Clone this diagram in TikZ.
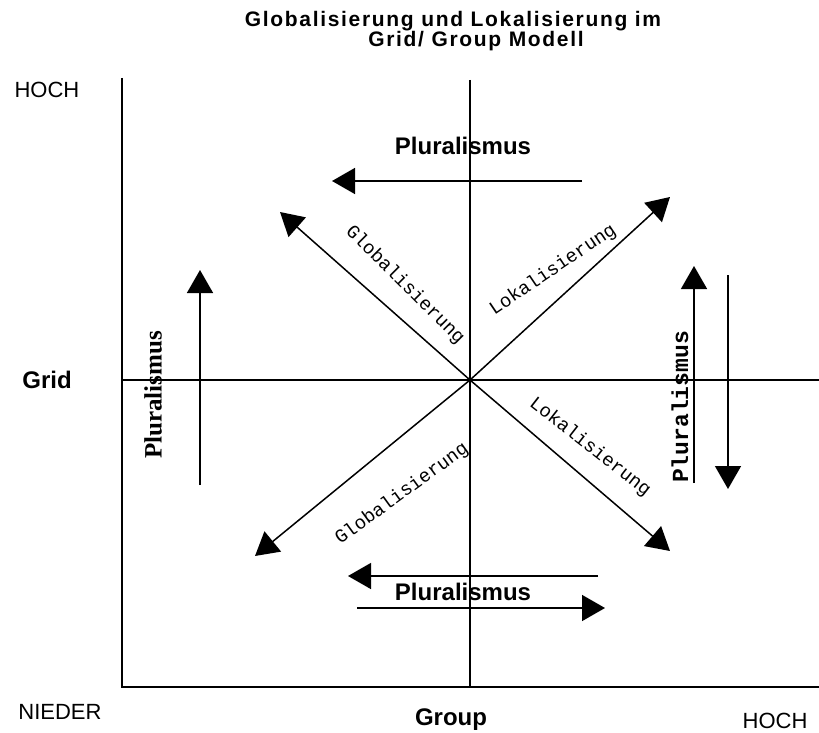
\documentclass[tikz,border=0pt]{standalone}
\usepackage{fontspec}
\setmainfont{Liberation Sans}
\newfontfamily\titlefont[LetterSpace=8]{Liberation Sans}
\newfontfamily\plurmono{Liberation Mono}
\newfontfamily\plurserif{Liberation Serif}
\usetikzlibrary{arrows.meta}

\tikzset{
  axisline/.style={line width=1.5pt},
  bigarrow/.style={line width=1.5pt,-{Triangle[length=23pt,width=26pt]}},
  caption/.style={inner sep=0pt,font=\fontsize{22}{24}\selectfont},
  boldcaption/.style={inner sep=0pt,font=\fontsize{24}{26}\selectfont\bfseries},
  titleline/.style={inner sep=0pt,font=\titlefont\fontsize{21}{23}\selectfont\bfseries},
  diaglabel/.style={inner sep=0pt,font=\plurmono\fontsize{19}{21}\selectfont},
}

\begin{document}
\begin{tikzpicture}[x=1pt,y=-1pt]
\useasboundingbox (0,0) rectangle (819,733);

% Title
\node[titleline] (title1) at (453,21) {Globalisierung und Lokalisierung im};
\node[titleline] (title2) at (476,41) {Grid/ Group Modell};

% Axes
\coordinate (top) at (122,78);
\coordinate (origin) at (122,687);
\coordinate (right) at (819,687);
\draw[axisline] (top) -- (origin) -- (right);

% Cross through the middle
\coordinate (O) at (470,380);
\coordinate (midtop) at (470,80);
\coordinate (midbot) at (470,687);
\coordinate (midleft) at (122,380);
\coordinate (midright) at (819,380);
\draw[axisline] (midtop) -- (midbot);
\draw[axisline] (midleft) -- (midright);

% Axis captions
\node[caption] (hochL) at (47,90) {HOCH};
\node[boldcaption] (grid) at (47,380) {Grid};
\node[caption] (nieder) at (60,712) {NIEDER};
\node[boldcaption] (group) at (451,720) {Group};
\node[caption] (hochR) at (775,721) {HOCH};

% Diagonal arrows
\coordinate (nw) at (280,212);
\coordinate (ne) at (670,197);
\coordinate (sw) at (255,556);
\coordinate (se) at (670,551);
\draw[bigarrow] (O) -- (nw);
\draw[bigarrow] (O) -- (ne);
\draw[bigarrow] (O) -- (sw);
\draw[bigarrow] (O) -- (se);

\node[diaglabel,rotate=-45] (globNW) at (405,285) {Globalisierung};
\node[diaglabel,rotate=34] (lokNE) at (553,270) {Lokalisierung};
\node[diaglabel,rotate=36] (globSW) at (402,494) {Globalisierung};
\node[diaglabel,rotate=-38] (lokSE) at (590,447) {Lokalisierung};

% Pluralismus, top and bottom
\coordinate (topA) at (582,181);
\coordinate (topB) at (332,181);
\draw[bigarrow] (topA) -- (topB);
\node[boldcaption] (plurTop) at (463,146) {Pluralismus};

\coordinate (botA) at (598,576);
\coordinate (botB) at (348,576);
\coordinate (botC) at (357,608);
\coordinate (botD) at (605,608);
\draw[bigarrow] (botA) -- (botB);
\draw[bigarrow] (botC) -- (botD);
\node[boldcaption] (plurBot) at (463,592) {Pluralismus};

% Pluralismus, left and right
\coordinate (leftA) at (200,485);
\coordinate (leftB) at (200,270);
\draw[bigarrow] (leftA) -- (leftB);
\node[inner sep=0pt,rotate=90,font=\plurserif\fontsize{25}{27}\selectfont\bfseries] (plurL) at (153,395) {Pluralismus};

\coordinate (rightA) at (694,483);
\coordinate (rightB) at (694,266);
\coordinate (rightC) at (728,275);
\coordinate (rightD) at (728,489);
\draw[bigarrow] (rightA) -- (rightB);
\draw[bigarrow] (rightC) -- (rightD);
\node[inner sep=0pt,rotate=90,font=\plurmono\fontsize{23}{25}\selectfont\bfseries] (plurR) at (680,407) {Pluralismus};

\end{tikzpicture}
\end{document}
